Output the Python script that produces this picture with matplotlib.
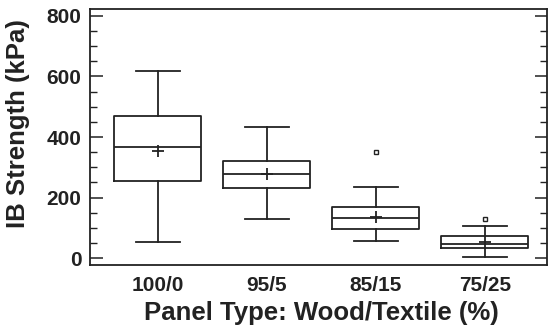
import numpy as np
import matplotlib
matplotlib.use("Agg")
import matplotlib.pyplot as plt
from matplotlib.ticker import MultipleLocator

# Panel types and box statistics (kPa)
panels   = ["100/0", "95/5", "85/15", "75/25"]
whislo   = [53, 130, 58, 5]
q1       = [255, 230, 96, 33]
med      = [366, 279, 134, 47]
q3       = [470, 322, 168, 73]
whishi   = [619, 432, 235, 106]
means    = [355, 277, 137, 53]
outliers = [[], [], [350], [130]]

plt.rcParams['font.family'] = ['Liberation Sans', 'DejaVu Sans']
plt.rcParams['font.weight'] = 'bold'

ink = "#222222"
lw = 1.3

stats = [dict(label=l, whislo=a, q1=b, med=c, q3=d, whishi=e, mean=m, fliers=f)
         for l, a, b, c, d, e, m, f in zip(panels, whislo, q1, med, q3, whishi, means, outliers)]

fig = plt.figure(figsize=(5.48, 3.33), dpi=100)
ax = fig.add_axes([0.164, 0.204, 0.834, 0.769])

ax.bxp(stats, positions=np.arange(1, len(panels) + 1), widths=0.8, showmeans=True,
       boxprops=dict(color=ink, linewidth=lw),
       whiskerprops=dict(color=ink, linewidth=lw),
       capprops=dict(color=ink, linewidth=lw),
       medianprops=dict(color=ink, linewidth=lw),
       meanprops=dict(marker='+', markersize=9, markeredgecolor=ink, markeredgewidth=1.3),
       flierprops=dict(marker='s', markersize=3.5, markerfacecolor='white',
                       markeredgecolor=ink, markeredgewidth=1.0))

ax.set_xlim(0.376, 4.569)
ax.set_ylim(-23, 823)
ax.yaxis.set_major_locator(MultipleLocator(200))
ax.yaxis.set_minor_locator(MultipleLocator(50))
ax.tick_params(axis='y', which='major', direction='in', length=9, width=1.1,
               left=True, right=True, color=ink, labelsize=15, pad=6, labelcolor=ink)
ax.tick_params(axis='y', which='minor', direction='in', length=5, width=1.0,
               left=True, right=True, color=ink)
ax.tick_params(axis='x', length=0, labelsize=15, pad=8, labelcolor=ink)
for lab in ax.get_xticklabels() + ax.get_yticklabels():
    lab.set_fontweight('bold')
for s in ax.spines.values():
    s.set_linewidth(1.3); s.set_color(ink)

ax.set_ylabel("IB Strength (kPa)", fontsize=18.5, fontweight='bold', color=ink, va='center')
ax.yaxis.set_label_coords(-0.158, 0.553)
ax.set_xlabel("Panel Type: Wood/Textile (%)", fontsize=18.5, fontweight='bold', color=ink, va='center')
ax.xaxis.set_label_coords(0.507, -0.188)

fig.savefig("out.png", dpi=100)
